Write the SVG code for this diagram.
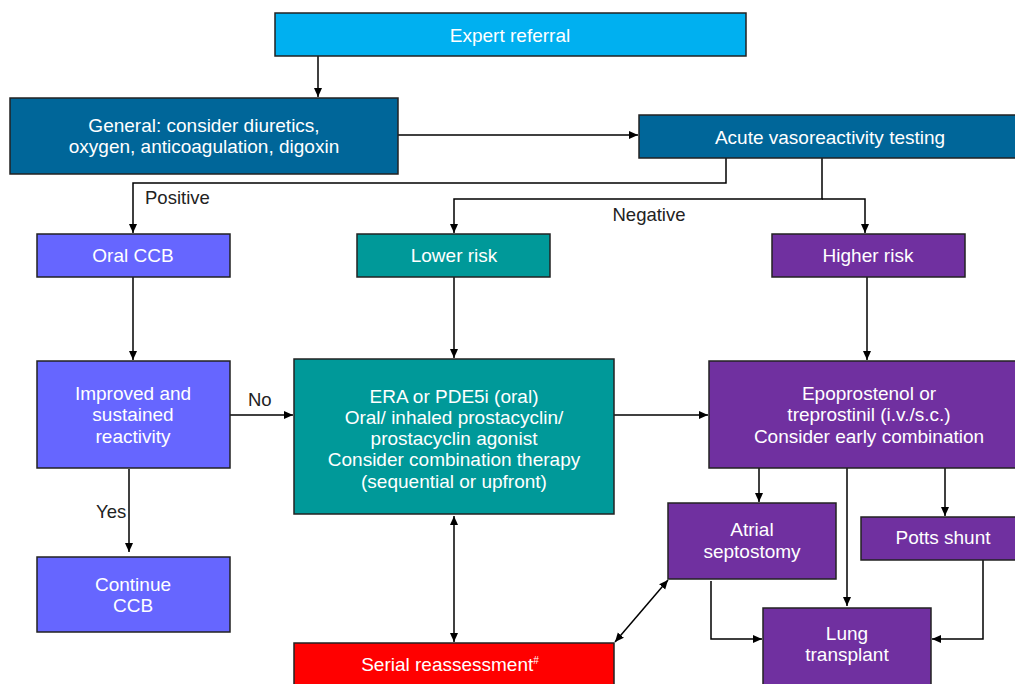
<svg xmlns="http://www.w3.org/2000/svg" width="1015" height="684" viewBox="0 0 1015 684">
<defs>
<marker id="ah" markerWidth="10" markerHeight="10" refX="9" refY="5" orient="auto-start-reverse" markerUnits="userSpaceOnUse">
<path d="M0,1 L9,5 L0,9 Z" fill="#000"/>
</marker>
<style>
.box{stroke:#222;stroke-width:1.5}
.t{font-family:"Liberation Sans",Arial,sans-serif;font-size:19px;fill:#fff;text-anchor:middle}
.l{font-family:"Liberation Sans",Arial,sans-serif;font-size:18.5px;fill:#222}
.c{fill:none;stroke:#000;stroke-width:1.5}
</style>
</defs>
<rect width="1015" height="684" fill="#fff"/>
<g id="connectors">
<path class="c" d="M318,56 V97" marker-end="url(#ah)"/>
<path class="c" d="M398,135 H638" marker-end="url(#ah)"/>
<path class="c" d="M726,158 V183 H133 V233" marker-end="url(#ah)"/>
<path class="c" d="M822,158 V199 H454 V233" marker-end="url(#ah)"/>
<path class="c" d="M822,199 H865 V233" marker-end="url(#ah)"/>
<path class="c" d="M133,277 V360" marker-end="url(#ah)"/>
<path class="c" d="M454,277 V358" marker-end="url(#ah)"/>
<path class="c" d="M867,277 V360" marker-end="url(#ah)"/>
<path class="c" d="M230,415 H293" marker-end="url(#ah)"/>
<path class="c" d="M129,469 V552" marker-end="url(#ah)"/>
<path class="c" d="M614,415 H708" marker-end="url(#ah)"/>
<path class="c" d="M454,516 V642" marker-start="url(#ah)" marker-end="url(#ah)"/>
<path class="c" d="M759,468 V502" marker-end="url(#ah)"/>
<path class="c" d="M945,468 V516" marker-end="url(#ah)"/>
<path class="c" d="M847,468 V606" marker-end="url(#ah)"/>
<path class="c" d="M711,581 V639 H762" marker-end="url(#ah)"/>
<path class="c" d="M983,560 V639 H932" marker-end="url(#ah)"/>
<path class="c" d="M668,580 L615,642" marker-start="url(#ah)" marker-end="url(#ah)"/>
</g>
<g id="labels">
<text class="l" x="145" y="204">Positive</text>
<text class="l" x="649" y="221" text-anchor="middle">Negative</text>
<text class="l" x="248" y="406">No</text>
<text class="l" x="96" y="518">Yes</text>
</g>
<g id="expert">
<rect class="box" x="275" y="13" width="471" height="43" fill="#00B0F0"/>
<text class="t" x="510" y="42">Expert referral</text>
</g>
<g id="general">
<rect class="box" x="10" y="98" width="388" height="76" fill="#006699"/>
<text class="t" x="204" y="132">General: consider diuretics,</text>
<text class="t" x="204" y="153">oxygen, anticoagulation, digoxin</text>
</g>
<g id="acute">
<rect class="box" x="639" y="115" width="380" height="43" fill="#006699"/>
<text class="t" x="830" y="144">Acute vasoreactivity testing</text>
</g>
<g id="oralccb">
<rect class="box" x="37" y="234" width="193" height="43" fill="#6666FF"/>
<text class="t" x="133" y="262">Oral CCB</text>
</g>
<g id="lowerrisk">
<rect class="box" x="357" y="234" width="193" height="43" fill="#009999"/>
<text class="t" x="454" y="262">Lower risk</text>
</g>
<g id="higherrisk">
<rect class="box" x="772" y="234" width="193" height="43" fill="#7030A0"/>
<text class="t" x="868" y="262">Higher risk</text>
</g>
<g id="improved">
<rect class="box" x="37" y="361" width="193" height="107" fill="#6666FF"/>
<text class="t" x="133" y="400">Improved and</text>
<text class="t" x="133" y="421">sustained</text>
<text class="t" x="133" y="443">reactivity</text>
</g>
<g id="era">
<rect class="box" x="294" y="359" width="320" height="155" fill="#009999"/>
<text class="t" x="454" y="403">ERA or PDE5i (oral)</text>
<text class="t" x="454" y="424">Oral/ inhaled prostacyclin/</text>
<text class="t" x="454" y="445">prostacyclin agonist</text>
<text class="t" x="454" y="466">Consider combination therapy</text>
<text class="t" x="454" y="488">(sequential or upfront)</text>
</g>
<g id="epo">
<rect class="box" x="709" y="361" width="310" height="107" fill="#7030A0"/>
<text class="t" x="869" y="400">Epoprostenol or</text>
<text class="t" x="869" y="421">treprostinil (i.v./s.c.)</text>
<text class="t" x="869" y="443">Consider early combination</text>
</g>
<g id="continue">
<rect class="box" x="37" y="557" width="193" height="75" fill="#6666FF"/>
<text class="t" x="133" y="591">Continue</text>
<text class="t" x="133" y="612">CCB</text>
</g>
<g id="atrial">
<rect class="box" x="668" y="503" width="168" height="76" fill="#7030A0"/>
<text class="t" x="752" y="536">Atrial</text>
<text class="t" x="752" y="558">septostomy</text>
</g>
<g id="potts">
<rect class="box" x="861" y="517" width="158" height="43" fill="#7030A0"/>
<text class="t" x="943" y="544">Potts shunt</text>
</g>
<g id="lung">
<rect class="box" x="763" y="608" width="168" height="80" fill="#7030A0"/>
<text class="t" x="847" y="640">Lung</text>
<text class="t" x="847" y="661">transplant</text>
</g>
<g id="serial">
<rect class="box" x="294" y="643" width="320" height="45" fill="#FF0000"/>
<text class="t" x="450" y="671">Serial reassessment<tspan font-size="10" dy="-7">#</tspan></text>
</g>
</svg>
